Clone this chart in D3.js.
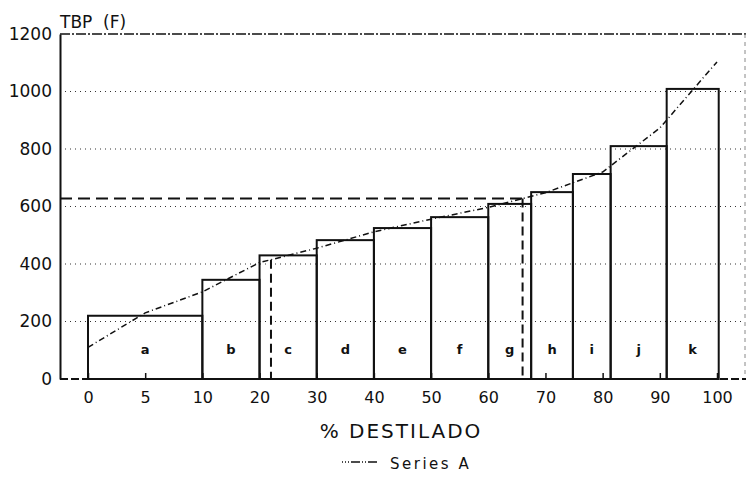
<!DOCTYPE html>
<html>
<head>
<meta charset="utf-8">
<script src="https://cdn.jsdelivr.net/npm/d3@7"></script>
<style>
  body { margin: 0; background: #fff; }
  svg { display: block; }
  text { fill: #111; font-family: "DejaVu Sans", Arial, sans-serif; }
</style>
</head>
<body>
<div id="chart"></div>
<script>
// % distilled ticks (categorical axis, evenly spaced)
const pctTicks = [0, 5, 10, 20, 30, 40, 50, 60, 70, 80, 90, 100];
// Series A: TBP (F) at each tick
const seriesA = [110, 230, 303, 405, 455, 512, 556, 597, 648, 720, 873, 1103];
const yTicks = [0, 200, 400, 600, 800, 1000, 1200];

// cuts (boxes) drawn over the curve
const cutNames = ['a', 'b', 'c', 'd', 'e', 'f', 'g', 'h', 'i', 'j', 'k'];
const cutEdges = [0, 10, 20, 30, 40, 50, 60, 67.5, 74.8, 81.4, 91.2, 100.3];
const cutTbp = [220, 345, 430, 483, 525, 563, 609, 650, 713, 810, 1009];
// dashed reference lines at these % distilled
const refPct = [22, 66];

const width = 746, height = 481;
const plotLeft = 60, plotTop = 34, plotBottom = 379, plotRight = 745;

const svg = d3.select('#chart').append('svg')
  .attr('width', width)
  .attr('height', height);

const step = (717 - 88) / (pctTicks.length - 1);
const x = d3.scaleLinear()
  .domain(pctTicks)
  .range(pctTicks.map((d, i) => 88 + i * step));
const y = d3.scaleLinear().domain([0, 1200]).range([plotBottom, plotTop]);

// curve value at any %, through the same piecewise scale
const curve = d3.scaleLinear().domain(pctTicks).range(seriesA);

// dotted grid
svg.append('g')
  .selectAll('line')
  .data(yTicks.filter(d => d > 0 && d < 1200))
  .enter().append('line')
    .attr('x1', plotLeft).attr('x2', plotRight)
    .attr('y1', d => y(d)).attr('y2', d => y(d))
    .attr('stroke', '#333')
    .attr('stroke-width', 1)
    .attr('stroke-dasharray', '1,4');

// frame: top dash-dot, right faint dashed
svg.append('line')
  .attr('x1', plotLeft).attr('x2', width).attr('y1', y(1200)).attr('y2', y(1200))
  .attr('stroke', '#111').attr('stroke-width', 1.6)
  .attr('stroke-dasharray', '10,2,2,2');
svg.append('line')
  .attr('x1', plotRight).attr('x2', plotRight).attr('y1', y(1200)).attr('y2', plotBottom)
  .attr('stroke', '#888').attr('stroke-width', 1)
  .attr('stroke-dasharray', '4,4');

// boxes
const box = svg.append('g').attr('class', 'cuts');
box.selectAll('rect')
  .data(cutTbp)
  .enter().append('rect')
    .attr('x', (d, i) => x(cutEdges[i]))
    .attr('width', (d, i) => x(cutEdges[i + 1]) - x(cutEdges[i]))
    .attr('y', d => y(d))
    .attr('height', d => y(0) - y(d))
    .attr('fill', 'none')
    .attr('stroke', '#111')
    .attr('stroke-width', 2);

box.selectAll('text')
  .data(cutNames)
  .enter().append('text')
    .attr('x', (d, i) => (x(cutEdges[i]) + x(cutEdges[i + 1])) / 2)
    .attr('y', 354)
    .attr('text-anchor', 'middle')
    .style('font-size', '13px')
    .style('font-weight', 'bold')
    .text(d => d);

// dashed reference lines
const hiRef = curve(refPct[1]);
svg.append('line')
  .attr('x1', plotLeft).attr('x2', x(refPct[1]))
  .attr('y1', y(hiRef)).attr('y2', y(hiRef))
  .attr('stroke', '#111').attr('stroke-width', 2)
  .attr('stroke-dasharray', '12,6');
svg.append('g')
  .selectAll('line')
  .data(refPct)
  .enter().append('line')
    .attr('x1', d => x(d)).attr('x2', d => x(d))
    .attr('y1', d => y(curve(d))).attr('y2', y(0))
    .attr('stroke', '#111').attr('stroke-width', 2)
    .attr('stroke-dasharray', '9,5');

// Series A
const line = d3.line()
  .x((d, i) => x(pctTicks[i]))
  .y(d => y(d));
svg.append('path')
  .datum(seriesA)
  .attr('d', line)
  .attr('fill', 'none')
  .attr('stroke', '#111')
  .attr('stroke-width', 1.5)
  .attr('stroke-dasharray', '6,3,1,3');

// y axis
const yAxis = svg.append('g')
  .attr('transform', `translate(${plotLeft},0)`)
  .call(d3.axisLeft(y).tickValues(yTicks).tickFormat(d3.format('d'))
    .tickSize(0).tickPadding(8));
yAxis.select('.domain').attr('stroke', '#111').attr('stroke-width', 2);
yAxis.selectAll('text')
  .style('font-size', '17px')
  .style('font-family', '"DejaVu Sans", Arial, sans-serif')
  .attr('fill', '#111');

// x axis
const xAxis = svg.append('g')
  .attr('transform', `translate(0,${plotBottom})`)
  .call(d3.axisBottom(x).tickValues(pctTicks).tickFormat(d3.format('d'))
    .tickSizeInner(-6).tickSizeOuter(0).tickPadding(13));
xAxis.select('.domain')
  .attr('d', `M${plotLeft},0H${width}`)
  .attr('stroke', '#111').attr('stroke-width', 2)
  .attr('stroke-dasharray', '8,3');
xAxis.selectAll('.tick line').attr('stroke', '#111').attr('stroke-width', 1.5);
xAxis.selectAll('text')
  .style('font-size', '16px')
  .style('font-family', '"DejaVu Sans", Arial, sans-serif')
  .attr('fill', '#111');

// titles
svg.append('text')
  .attr('x', 60).attr('y', 28)
  .style('font-size', '17px')
  .attr('xml:space', 'preserve')
  .text('TBP  (F)');

svg.append('text')
  .attr('x', 401).attr('y', 438)
  .attr('text-anchor', 'middle')
  .style('font-size', '20px')
  .style('letter-spacing', '2px')
  .text('% DESTILADO');

// legend
const legend = svg.append('g').attr('transform', 'translate(342,462)');
legend.append('line')
  .attr('x1', 0).attr('x2', 35).attr('y1', 0).attr('y2', 0)
  .attr('stroke', '#111').attr('stroke-width', 1.5)
  .attr('stroke-dasharray', '1,2,1,2,1,2,8,0');
legend.append('text')
  .attr('x', 48).attr('y', 7)
  .style('font-size', '15px')
  .style('letter-spacing', '2.5px')
  .text('Series A');
</script>
</body>
</html>
